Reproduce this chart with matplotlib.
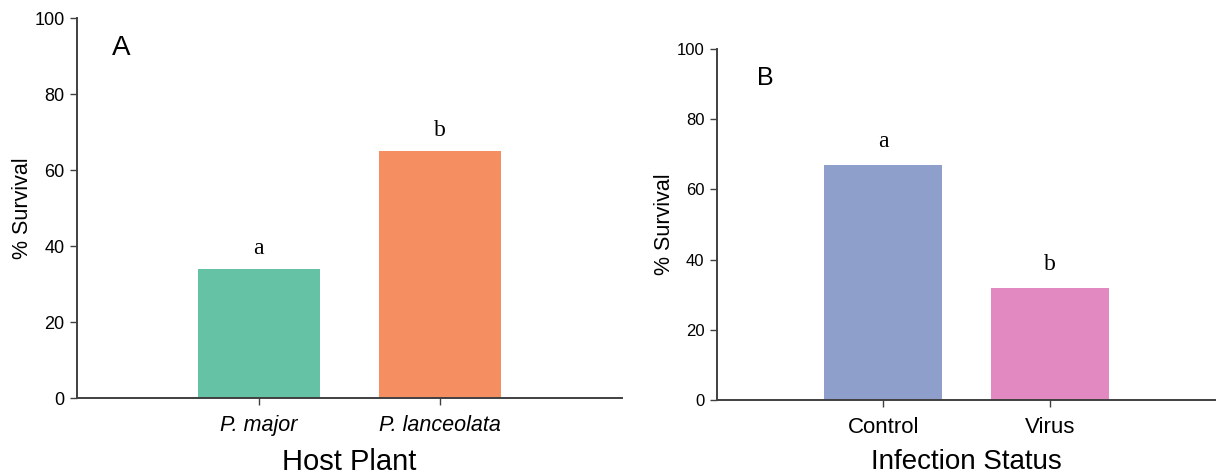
import matplotlib.pyplot as plt

# data
host_plants = ['P. major', 'P. lanceolata']
host_survival = [34, 65]
host_letters = ['a', 'b']
host_colors = ['#66c2a5', '#f58f62']

infection = ['Control', 'Virus']
infection_survival = [67, 32]
infection_letters = ['a', 'b']
infection_colors = ['#8e9fcb', '#e389c1']

plt.rcParams['font.family'] = ['Liberation Sans', 'DejaVu Sans']
axis_color = '#404040'

fig = plt.figure(figsize=(12.16, 4.74), dpi=100)
ax1 = fig.add_axes([0.0633, 0.1603, 0.4482, 0.8017])
ax2 = fig.add_axes([0.5896, 0.1561, 0.4104, 0.7405])


def style(ax, ysize, xsize):
    for s in ['top', 'right']:
        ax.spines[s].set_visible(False)
    for s in ['left', 'bottom']:
        ax.spines[s].set_color(axis_color)
        ax.spines[s].set_linewidth(1.4)
    ax.set_xlim(-1, 2)
    ax.set_ylim(0, 100)
    ax.set_yticks([0, 20, 40, 60, 80, 100])
    ax.tick_params(axis='y', length=5, width=1, color=axis_color, labelsize=ysize, pad=4)
    ax.tick_params(axis='x', length=5, width=1, color=axis_color, labelsize=xsize, pad=7)


# A - host plant
style(ax1, 13, 15.5)
ax1.bar(range(2), host_survival, width=0.67, color=host_colors)
ax1.set_xticks(range(2))
ax1.set_xticklabels(host_plants, style='italic')
for i, v in enumerate(host_survival):
    ax1.text(i, v + 4, host_letters[i], ha='center', va='baseline',
             family='Liberation Serif', fontsize=17)
ax1.text(-0.81, 90.3, 'A', fontsize=20, va='baseline')
ax1.set_ylabel('% Survival', fontsize=15.5, labelpad=1)
ax1.set_xlabel('Host Plant', fontsize=21, labelpad=9)

# B - infection status
style(ax2, 12, 16)
ax2.bar(range(2), infection_survival, width=0.71, color=infection_colors)
ax2.set_xticks(range(2))
ax2.set_xticklabels(infection)
for i, v in enumerate(infection_survival):
    ax2.text(i, v + 5, infection_letters[i], ha='center', va='baseline',
             family='Liberation Serif', fontsize=17)
ax2.text(-0.76, 89.7, 'B', fontsize=18, va='baseline')
ax2.set_ylabel('% Survival', fontsize=15.5, labelpad=1)
ax2.set_xlabel('Infection Status', fontsize=20, labelpad=8)

plt.savefig('out.png', dpi=100)
